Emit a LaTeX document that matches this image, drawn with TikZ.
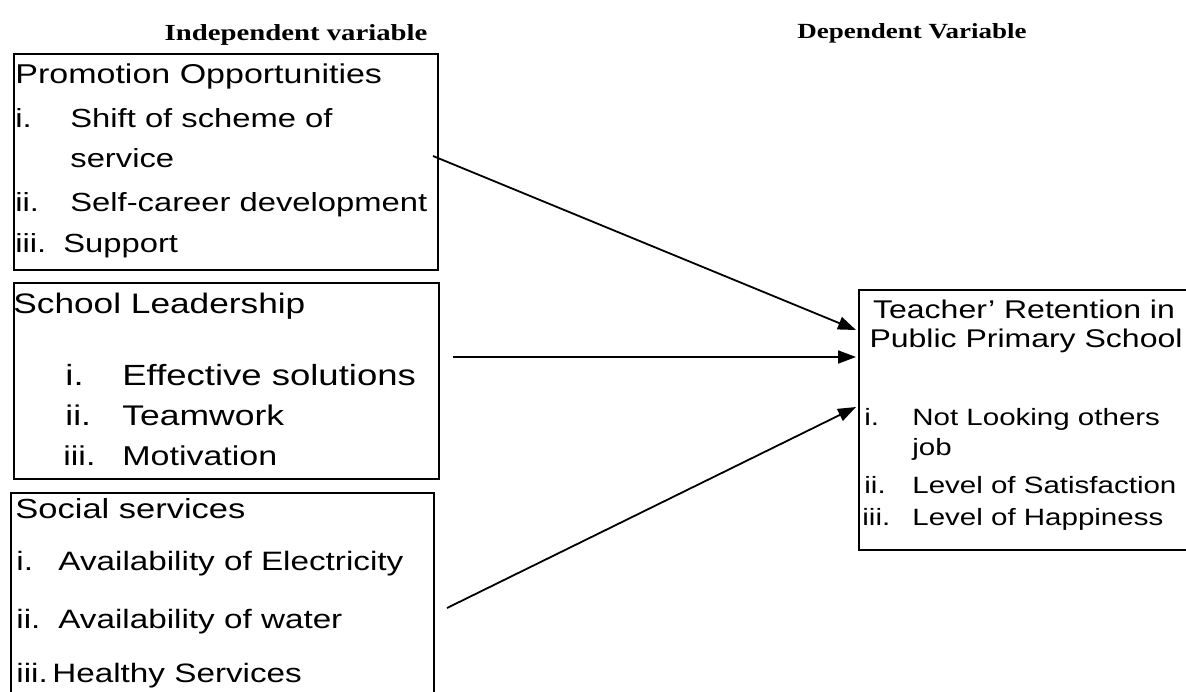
\documentclass[tikz,border=0pt]{standalone}
\usepackage{fontspec}
\setmainfont{Liberation Sans}[FakeStretch=1.25]
\newfontfamily\headfont{Liberation Serif}[FakeStretch=1.25]
\usetikzlibrary{arrows.meta}
\usetikzlibrary{positioning}
\tikzset{frame/.style={draw,line width=0.9pt,inner sep=0pt,anchor=north west},
         varhead/.style={anchor=base,inner sep=0pt,font=\headfont\bfseries\fontsize{11.5}{13}\selectfont},
         line/.style={anchor=base west,inner sep=0pt},
         title/.style={anchor=base,inner sep=0pt},
         link/.style={-{Triangle[length=9pt,width=6.5pt]},line width=0.9pt},
         }
\newcommand{\lab}[2]{\makebox[#1][l]{#2}}

\begin{document}
\begin{tikzpicture}[x=0.5pt,y=-0.5pt]
\useasboundingbox (0,0) rectangle (1186,691);
\clip (0,0) rectangle (1186,691);

\node[varhead] (indep) at (296,40) {Independent variable};
\node[varhead,font=\headfont\bfseries\fontsize{10.8}{13}\selectfont] (dep) at (912,38) {Dependent Variable};

% promotion
\node[frame,minimum width=212pt,minimum height=108pt] (promo) at (13,53) {};
\node[line,font=\fontsize{13.6}{16}\selectfont] (promo0) at (15,83) {Promotion Opportunities};
\begin{scope}[every node/.append style={font=\fontsize{13.1}{16}\selectfont}]
\node[line] (promo1) at (15,127) {\lab{27.5pt}{i.}Shift of scheme of};
\node[line] (promo1b) at (70,167) {service};
\node[line] (promo2) at (15,211) {\lab{27.5pt}{ii.}Self-career development};
\node[line] (promo3) at (15,252) {\lab{24pt}{iii.}Support};
\end{scope}

% leadership
\node[frame,minimum width=212.5pt,minimum height=98pt] (lead) at (13,282) {};
\node[line,font=\fontsize{14.1}{16}\selectfont] (lead0) at (13,313) {School Leadership};
\node[line,font=\fontsize{14.6}{16}\selectfont] (lead1) at (65,385) {\lab{28.5pt}{i.}Effective solutions};
\node[line,font=\fontsize{14.2}{16}\selectfont] (lead2) at (65,425) {\lab{28.5pt}{ii.}Teamwork};
\node[line,font=\fontsize{13.6}{16}\selectfont] (lead3) at (63,465) {\lab{29.5pt}{iii.}Motivation};

% social services
\node[frame,minimum width=211.5pt,minimum height=110pt] (social) at (10,492) {};
\node[line,font=\fontsize{13.8}{16}\selectfont] (social0) at (15,518) {Social services};
\begin{scope}[every node/.append style={font=\fontsize{13.3}{16}\selectfont}]
\node[line] (social1) at (16,570) {\lab{21pt}{i.}Availability of Electricity};
\node[line] (social2) at (16,628) {\lab{21pt}{ii.}Availability of water};
\node[line] (social3) at (16,682) {\lab{18pt}{iii.}Healthy Services};
\end{scope}

% retention
\node[frame,minimum width=167pt,minimum height=130pt] (ret) at (858,289) {};
\begin{scope}[every node/.append style={font=\fontsize{12.8}{16}\selectfont}]
\node[title] (ret0a) at (1024,318) {Teacher' Retention in};
\node[title] (ret0b) at (1026,347) {Public Primary School};
\end{scope}
\begin{scope}[every node/.append style={font=\fontsize{11.8}{14}\selectfont}]
\node[line] (ret1) at (864,425) {\lab{24pt}{i.}Not Looking others};
\node[line] (ret1b) at (912,455) {job};
\node[line] (ret2) at (864,493) {\lab{24pt}{ii.}Level of Satisfaction};
\node[line] (ret3) at (862,525) {\lab{25pt}{iii.}Level of Happiness};
\end{scope}

\coordinate (from1) at (433,156);
\coordinate (from2) at (453,357);
\coordinate (from3) at (447,608);
\coordinate (to1) at (856,330);
\coordinate (to2) at (856,357);
\coordinate (to3) at (856,407);
\draw[link] (from1) -- (to1);
\draw[link] (from2) -- (to2);
\draw[link] (from3) -- (to3);
\end{tikzpicture}
\end{document}
